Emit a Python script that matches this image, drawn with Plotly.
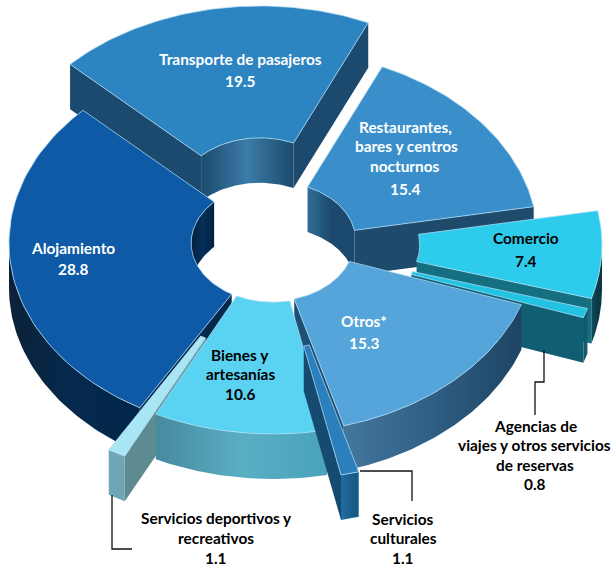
import numpy as np
import plotly.graph_objects as go

# ---- data ----
categories = ["Transporte de pasajeros", "Restaurantes, bares y centros nocturnos", "Comercio",
              "Agencias de viajes y otros servicios de reservas", "Otros*", "Servicios culturales",
              "Bienes y artesanías", "Servicios deportivos y recreativos", "Alojamiento"]
values = [19.5, 15.4, 7.4, 0.8, 15.3, 1.1, 10.6, 1.1, 28.8]

# ---- geometry / style ----
W, H = 612, 569
CX, CY, RX, RY, HOLE, DEPTH = 273, 243, 264, 191, 0.31, 45
START = 136.0
pull = [(-13, -46), (1, -2), (65, 2), (61, 12), (-1, -1), (14, 45), (0, 0), (-31, 42), (0, 0)]
top_col = ["#2C84C0", "#3A8FCB", "#2ECCEC", "#22C3E2", "#55A4DA", "#2A7FBC", "#5AD3F2", "#A9E6F3", "#0E5AA6"]
cut_col = ["#1C4A6E", "#1E4A6C", "#146F80", "#105E72", "#1E4F75", "#174A70", "#3F8FA5", "#5E8A92", "#04294D"]
wall_cs = [["#1C4A6E", "#3B7CA8", "#1C4A6E"], ["#1C4A6E", "#2F6E98", "#1C4A6E"], ["#0F4E5E", "#0B3C4A", "#0B3542"],
           ["#0F5A6C", "#0F5A6C", "#0F5A6C"], ["#44779C", "#2F5F84", "#1D4464"], ["#1F6EA0", "#1A5F8E", "#175784"],
           ["#468A9E", "#5AAEC4", "#49A3BC"], ["#6FA6B6", "#6FA6B6", "#6FA6B6"], ["#0C2238", "#052A4E", "#02264A"]]
inner_cs = [["#1C4A6E", "#3B7CA8", "#1C4A6E"], ["#2F6E98", "#1C4A6E", "#1C4A6E"], ["#146F80"] * 3,
            ["#105E72"] * 3, ["#1E4F75"] * 3, ["#174A70"] * 3, ["#3F8FA5"] * 3, ["#5E8A92"] * 3,
            ["#02203E", "#05305A", "#02203E"]]
EDGE = "rgba(175,220,245,0.75)"

# angular range of every sector, clockwise from START
cum = np.cumsum([0] + values)
t_hi = [START - 3.6 * c for c in cum[:-1]]
t_lo = [START - 3.6 * c for c in cum[1:]]

fig = go.Figure()


def scale(colors):
    n = len(colors) - 1
    return [[i / n, c] for i, c in enumerate(colors)]


def poly(x, y, color=None, colors=None, edge=None):
    kw = dict(fillgradient=dict(type="horizontal", colorscale=scale(colors))) if colors else dict(fillcolor=color)
    fig.add_trace(go.Scatter(
        x=np.r_[x, x[0]], y=np.r_[y, y[0]], mode="lines", fill="toself", hoverinfo="skip", showlegend=False,
        line=dict(color=edge or "rgba(0,0,0,0)", width=1 if edge else 0), **kw))


def pt(i, t, frac, drop=0):
    a = np.radians(t)
    return (CX + pull[i][0] + frac * RX * np.cos(a), CY + pull[i][1] - frac * RY * np.sin(a) + drop)


def arc(i, a, b, frac, drop=0):
    return pt(i, np.linspace(a, b, 60), frac, drop)


def visible(a, b, sign):
    """Parts of [a, b] (degrees) where sign*sin(t) > 0, as a list of ranges."""
    ts = np.linspace(a, b, 721)
    ok = sign * np.sin(np.radians(ts)) > 0
    if not ok.any():
        return []
    out, s = [], None
    for t, o in zip(ts, ok):
        if o and s is None:
            s = t
        if s is not None and (not o or t == ts[-1]):
            out.append((s, t))
            s = None
    return out


def walls(i):
    lo, hi = sorted((t_lo[i], t_hi[i]))
    for a, b in visible(lo, hi, 1):              # inner wall seen through the hole
        x0, y0 = arc(i, a, b, HOLE)
        x1, y1 = arc(i, b, a, HOLE, DEPTH)
        poly(np.r_[x0, x1], np.r_[y0, y1], colors=inner_cs[i])
    for t, test in ((lo, np.cos(np.radians(lo)) > 0), (hi, np.cos(np.radians(hi)) < 0)):  # cut faces
        if test:
            a, b = pt(i, t, HOLE), pt(i, t, 1)
            c, d = pt(i, t, 1, DEPTH), pt(i, t, HOLE, DEPTH)
            poly(np.array([a[0], b[0], c[0], d[0]]), np.array([a[1], b[1], c[1], d[1]]), color=cut_col[i])
    for a, b in visible(lo, hi, -1):             # outer wall
        x0, y0 = arc(i, a, b, 1)
        x1, y1 = arc(i, b, a, 1, DEPTH)
        poly(np.r_[x0, x1], np.r_[y0, y1], colors=wall_cs[i])


def top(i):
    x0, y0 = arc(i, t_hi[i], t_lo[i], 1)
    x1, y1 = arc(i, t_lo[i], t_hi[i], HOLE)
    poly(np.r_[x0, x1], np.r_[y0, y1], color=top_col[i], edge=EDGE)


for i in (0, 1, 2, 3, 4, 8):
    walls(i)
    top(i)
walls(7)
walls(6)
top(6)
walls(5)
top(5)
top(7)

# ---- labels ----
lab = [("Transporte de pasajeros", 240, 59, "white"), (f"{values[0]}", 240, 81, "white"),
       ("Restaurantes,", 405, 127, "white"), ("bares y centros", 406, 146, "white"),
       ("nocturnos", 405, 166, "white"), (f"{values[1]}", 405, 189, "white"),
       ("Comercio", 526, 238, "black"), (f"{values[2]}", 526, 261, "black"),
       ("Alojamiento", 73, 248, "white"), (f"{values[8]}", 73, 269, "white"),
       ("Otros*", 364, 321, "white"), (f"{values[4]}", 364, 343, "white"),
       ("Bienes y", 240, 355, "black"), ("artesanías", 240, 374, "black"), (f"{values[6]}", 240, 394, "black"),
       ("Servicios deportivos y", 216, 518, "black"), ("recreativos", 216, 538, "black"), (f"{values[7]}", 216, 557.5, "black"),
       ("Servicios", 403, 519, "black"), ("culturales", 403, 538, "black"), (f"{values[5]}", 403, 557.5, "black"),
       ("Agencias de", 535, 426, "black"), ("viajes y otros servicios", 534, 445, "black"),
       ("de reservas", 535, 465, "black"), (f"{values[3]}", 535, 484, "black")]
for text, x, y, c in lab:
    fig.add_annotation(x=x, y=y, text=f"<b>{text}</b>", showarrow=False, xanchor="center", yanchor="middle",
                       font=dict(family="Lato", size=15.4, color=c))

# ---- leader lines ----
for px, py in (([112, 112, 132], [495, 549, 549]), ([360, 412, 412], [471, 471, 501]),
               ([544, 544, 535, 535], [350, 382, 382, 415])):
    path = "M " + " L ".join(f"{a} {b}" for a, b in zip(px, py))
    fig.add_shape(type="path", path=path, line=dict(color="#111111", width=1.3))

fig.update_layout(width=W, height=H, margin=dict(l=0, r=0, t=0, b=0), paper_bgcolor="white",
                  plot_bgcolor="white", showlegend=False,
                  xaxis=dict(range=[0, W], visible=False, fixedrange=True),
                  yaxis=dict(range=[H, 0], visible=False, fixedrange=True))
fig.write_html("out.html", config={"displayModeBar": False},
               post_script="document.body.style.margin='0';document.body.style.overflow='hidden';")
